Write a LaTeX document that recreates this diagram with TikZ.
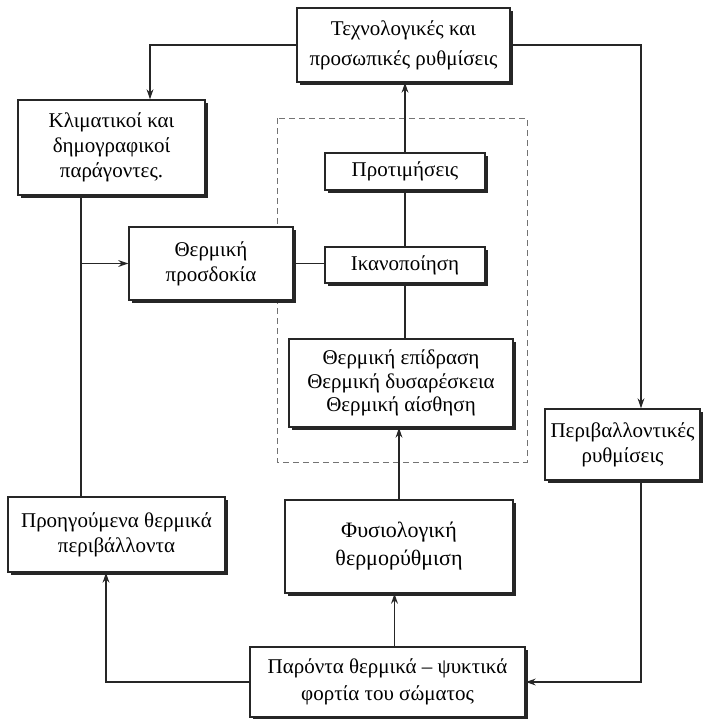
\documentclass[tikz,border=0pt]{standalone}
\usepackage{fontspec}
\setmainfont{Liberation Serif}
\usetikzlibrary{arrows.meta,shadows,calc}
\begin{document}
\begin{tikzpicture}[x=0.5pt,y=-0.5pt,
  box/.style={draw=black!85, line width=0.7pt, fill=white, inner sep=1pt, align=center,
    font=\fontsize{10.5}{12.5}\selectfont,
    drop shadow={shadow xshift=1.3pt, shadow yshift=-1.3pt, fill=black!85, opacity=1}},
  conn/.style={draw=black!85, line width=0.6pt},
  arr/.style={conn, -{Stealth[length=5pt,width=3.4pt]}},
  frameline/.style={draw=black!55, line width=0.5pt, densely dashed}]
\useasboundingbox (0,0) rectangle (717,719);
\fill[white] (0,0) rectangle (717,719);
% dashed frame
\draw[frameline] (277,118) rectangle (527,462);
% boxes
\node[box, minimum width=106.5pt, minimum height=37pt, font=\fontsize{10.5}{15}\selectfont] (T) at (403.5,45) {Τεχνολογικές και\\προσωπικές ρυθμίσεις};
\node[box, minimum width=93.5pt, minimum height=47.5pt] (K) at (111.5,147.5) {Κλιματικοί και\\δημογραφικοί\\παράγοντες.};
\node[box, minimum width=82pt, minimum height=36.5pt] (P) at (211,263.5) {Θερμική\\προσδοκία};
\node[box, minimum width=80pt, minimum height=18.5pt] (Pr) at (405,171.5) {Προτιμήσεις};
\node[box, minimum width=80pt, minimum height=18pt] (I) at (405,265) {Ικανοποίηση};
\node[box, minimum width=112pt, minimum height=44pt, font=\fontsize{10.5}{11.8}\selectfont] (E) at (401,383) {Θερμική επίδραση\\Θερμική δυσαρέσκεια\\Θερμική αίσθηση};
\node[box, minimum width=77.5pt, minimum height=35.5pt] (R) at (622.5,444.5) {Περιβαλλοντικές\\ρυθμίσεις};
\node[box, minimum width=108.5pt, minimum height=37.5pt] (H) at (116.5,534.5) {Προηγούμενα θερμικά\\περιβάλλοντα};
\node[box, minimum width=114pt, minimum height=46.5pt, font=\fontsize{11}{14}\selectfont] (F) at (399,546.5) {Φυσιολογική\\θερμορύθμιση};
\node[box, minimum width=137.5pt, minimum height=35pt, font=\fontsize{10.5}{13.5}\selectfont] (B) at (387.5,682) {Παρόντα θερμικά – ψυκτικά\\φορτία του σώματος};
% connectors
\coordinate (j) at (81,263.5);
\draw[arr] (T.west) -| ([xshift=19.25pt]K.north);
\draw[conn] ([xshift=-15.25pt]K.south) -- ([xshift=-17.75pt]H.north);
\draw[arr] (j) -- (j -| P.west);
\draw[conn] (P.east) -- (P.east -| I.west);
\draw[conn] (I.north) -- (I.north |- Pr.south);
\draw[arr] (Pr.north) -- (Pr.north |- T.south);
\draw[conn] (I.south) -- (I.south |- E.north);
\draw[arr] (F.north) -- (F.north |- E.south);
\draw[arr] ([xshift=3.5pt]B.north) -- ([xshift=3.5pt]B.north |- F.south);
\draw[arr] (B.west) -| ([xshift=-5.25pt]H.south);
\draw[arr] (T.east) -| ([xshift=9.25pt]R.north);
\draw[arr] ([xshift=9.25pt]R.south) |- (B.east);
\end{tikzpicture}
\end{document}
